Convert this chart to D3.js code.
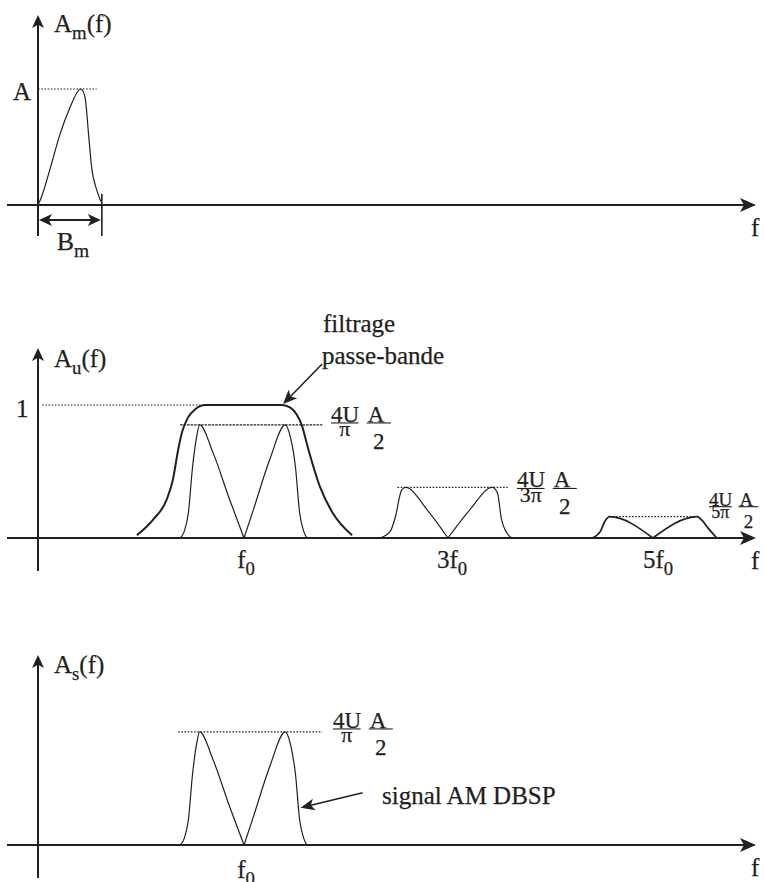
<!DOCTYPE html>
<html>
<head>
<meta charset="utf-8">
<script src="https://cdn.jsdelivr.net/npm/d3@7"></script>
<style>
  body { margin: 0; background: #fff; }
  svg { display: block; }
</style>
</head>
<body>
<svg id="chart" width="764" height="882"></svg>
<script>
// ---- Spectrum data (frequency in diagram units, f0 = 2, amplitude normalised) ----

// Message spectrum A_m(f), bandwidth B_m
const msgFreq = [0, 0.03, 0.12, 0.21, 0.31, 0.38, 0.41, 0.43, 0.46, 0.49, 0.52, 0.57, 0.61];
const msgAmp  = [0, 0.06, 0.32, 0.60, 0.84, 0.97, 1.00, 0.99, 0.91, 0.62, 0.33, 0.13, 0.03];
const msgBandwidth = 0.62;

// Band-pass filter response
const filterFreq = [0.96, 1.12, 1.25, 1.31, 1.36, 1.40, 1.46, 1.53, 1.62, 2.37, 2.45, 2.51, 2.56, 2.62, 2.74, 2.86, 3.05];
const filterAmp  = [0.02, 0.14, 0.29, 0.44, 0.66, 0.80, 0.91, 0.97, 1.00, 1.00, 0.98, 0.93, 0.85, 0.68, 0.38, 0.19, 0.02];

// Double-sideband lobe around f0 (also the filtered output)
const lobe1Freq = [1.38, 1.42, 1.46, 1.50, 1.54, 1.57, 1.70, 1.86, 2.00, 2.09, 2.25, 2.40, 2.45, 2.50, 2.54, 2.58, 2.61];
const lobe1Amp  = [0, 0.05, 0.19, 0.53, 0.76, 0.85, 0.64, 0.29, 0, 0.21, 0.59, 0.85, 0.76, 0.53, 0.19, 0.05, 0];

// Lobe around 3f0
const lobe3Freq = [3.32, 3.42, 3.47, 3.53, 3.57, 3.78, 3.98, 4.19, 4.41, 4.46, 4.50, 4.55, 4.60];
const lobe3Amp  = [0, 0.05, 0.16, 0.36, 0.38, 0.21, 0, 0.21, 0.38, 0.34, 0.14, 0.04, 0];

// Lobe around 5f0
const lobe5Freq = [5.38, 5.46, 5.50, 5.55, 5.97, 6.40, 6.45, 6.50, 6.59];
const lobe5Amp  = [0, 0.05, 0.12, 0.16, 0, 0.16, 0.13, 0.08, 0];

// Peak levels of the harmonics (4U/(nπ) · A/2)
const harmonicLevels = [0.85, 0.38, 0.16];
const harmonicSpans  = [[1.38, 2.76], [3.49, 4.56], [5.55, 6.37]];
const harmonicDen    = ["π", "3π", "5π"];

// Axis tick labels
const tickFreq  = [2, 4, 6];
const tickBase  = ["f", "3f", "5f"];

// ---- Layout ----
const FONT = "'Liberation Serif', 'Times New Roman', Times, serif";
const svg = d3.select("#chart");
const ink = "#231f20";
const x = d3.scaleLinear().domain([0, 6.864]).range([38, 745]);
const axisLeft = 7, axisRight = 756;

const panels = [
  { base: 205, unit: 116, top: 15,  bottom: 236, label: "m", labelY: 32 },
  { base: 538, unit: 133, top: 348, bottom: 571, label: "u", labelY: 367 },
  { base: 845, unit: 133, top: 655, bottom: 878, label: "s", labelY: 673 }
];
panels.forEach(p => { p.y = d3.scaleLinear().domain([0, 1]).range([p.base, p.base - p.unit]); });

const zip = (a, b) => a.map((v, i) => [v, b[i]]);

function label(xp, yp, str, size, anchor) {
  return svg.append("text").attr("x", xp).attr("y", yp)
    .attr("font-family", FONT).attr("font-size", size).attr("fill", ink)
    .attr("stroke", ink).attr("stroke-width", 0.25)
    .attr("text-anchor", anchor || "start").text(str);
}

// split a lobe at interior zeros so the V at the carrier stays sharp
function segments(pts) {
  const out = []; let cur = [pts[0]];
  for (let i = 1; i < pts.length; i++) {
    cur.push(pts[i]);
    if (pts[i][1] === 0 && i < pts.length - 1) { out.push(cur); cur = [pts[i]]; }
  }
  out.push(cur);
  return out;
}

function curve(p, pts, width) {
  const line = d3.line().x(d => x(d[0])).y(d => p.y(d[1])).curve(d3.curveMonotoneX);
  segments(pts).forEach(seg => {
    svg.append("path").attr("d", line(seg)).attr("fill", "none")
      .attr("stroke", ink).attr("stroke-width", width).attr("stroke-linejoin", "round");
  });
}

function dotted(p, f1, f2, level, dash) {
  svg.append("line")
    .attr("x1", x(f1)).attr("x2", x(f2)).attr("y1", p.y(level)).attr("y2", p.y(level))
    .attr("stroke", ink).attr("stroke-width", 1.2).attr("stroke-dasharray", dash || "1.6,1.6");
}

function arrowHead(x2, y2, ang, len, half) {
  const c = Math.cos(ang), s = Math.sin(ang);
  const bx = x2 - c * len, by = y2 - s * len;
  svg.append("path")
    .attr("d", `M${x2},${y2}L${bx - s * half},${by + c * half}L${bx + c * len * 0.25},${by + s * len * 0.25}L${bx + s * half},${by - c * half}Z`)
    .attr("fill", ink);
}

function arrow(x1, y1, x2, y2, width, len, half) {
  const ang = Math.atan2(y2 - y1, x2 - x1);
  svg.append("line").attr("x1", x1).attr("y1", y1)
    .attr("x2", x2 - Math.cos(ang) * len * 0.6).attr("y2", y2 - Math.sin(ang) * len * 0.6)
    .attr("stroke", ink).attr("stroke-width", width);
  arrowHead(x2, y2, ang, len, half);
}

function subText(xp, yp, base, sub, size, anchor) {
  const t = label(xp, yp, null, size, anchor);
  t.append("tspan").text(base);
  t.append("tspan").attr("font-size", size * 0.75).attr("dy", size * 0.28).text(sub);
  return t;
}

// ---- Axes ----
panels.forEach(p => {
  arrow(axisLeft, p.base, axisRight, p.base, 2, 16, 7);
  arrow(x(0), p.bottom, x(0), p.top, 2, 13, 6);
  const t = subText(x(0) + 16, p.labelY, "A", p.label, 25);
  t.append("tspan").attr("dy", -25 * 0.28).attr("font-size", 25).text("(f)");
  label(751, p.base + 31, "f", 25);
});

// ---- Panel 1: message spectrum ----
const p1 = panels[0];
dotted(p1, 0, 0.57, 1);
curve(p1, zip(msgFreq, msgAmp), 1.2);
label(13, p1.y(1) + 11, "A", 25);
svg.append("line").attr("x1", x(msgBandwidth)).attr("x2", x(msgBandwidth))
  .attr("y1", p1.base - 11).attr("y2", p1.bottom).attr("stroke", ink).attr("stroke-width", 1.6);
{
  const yB = p1.base + 15, xa = x(0) + 1, xb = x(msgBandwidth) - 1;
  svg.append("line").attr("x1", xa + 8).attr("x2", xb - 8).attr("y1", yB).attr("y2", yB)
    .attr("stroke", ink).attr("stroke-width", 2);
  arrowHead(xb, yB, 0, 13, 6);
  arrowHead(xa, yB, Math.PI, 13, 6);
}
subText(x(msgBandwidth / 2) + 3, p1.base + 45, "B", "m", 26, "middle");

// ---- Panel 2: chopped signal spectrum and band-pass filter ----
const p2 = panels[1];
dotted(p2, 0.04, 1.57, 1, "1.6,1.6");
label(16, p2.y(1) + 12, "1", 25);
curve(p2, zip(filterFreq, filterAmp), 2);
const lobes = [zip(lobe1Freq, lobe1Amp), zip(lobe3Freq, lobe3Amp), zip(lobe5Freq, lobe5Amp)];
lobes.forEach((pts, i) => curve(p2, pts, i === 2 ? 1.7 : 1.2));
harmonicLevels.forEach((lv, i) => dotted(p2, harmonicSpans[i][0], harmonicSpans[i][1], lv, i === 0 ? "2.5,1" : "1.6,1.6"));

// amplitude fraction label 4U/(nπ) · A/2
function ampLabel(x0, yBar, den, size) {
  label(x0, yBar - 1, "4U", size);
  svg.append("line").attr("x1", x0).attr("x2", x0 + size * 1.2).attr("y1", yBar).attr("y2", yBar)
    .attr("stroke", ink).attr("stroke-width", 1.1);
  label(x0 + size * 0.6, yBar + size * 0.58, den, size * 0.95, "middle");
  const ax = x0 + size * 1.6;
  label(ax, yBar - 1, "A", size);
  svg.append("line").attr("x1", ax - 1).attr("x2", ax + size * 1.0).attr("y1", yBar).attr("y2", yBar)
    .attr("stroke", ink).attr("stroke-width", 1.1);
  label(ax + size * 0.48, yBar + size * 1.12, "2", size, "middle");
}
ampLabel(331, p2.y(harmonicLevels[0]) - 2, harmonicDen[0], 23);
ampLabel(517, p2.y(harmonicLevels[1]) + 1, harmonicDen[1], 23);
ampLabel(709, p2.y(harmonicLevels[2]) - 10, harmonicDen[2], 19);

tickFreq.forEach((f, i) => subText(x(f) + 2, p2.base + 30, tickBase[i], "0", 25, "middle"));

// filter annotation
label(323, 332, "filtrage", 25);
label(322, 364, "passe-bande", 25);
arrow(x(2.37) + 40, p2.y(1) - 41, x(2.37) + 1, p2.y(1) - 1, 1.6, 14, 6);

// ---- Panel 3: output signal (DSB-SC around f0) ----
const p3 = panels[2];
dotted(p3, 1.36, 2.76, harmonicLevels[0]);
curve(p3, zip(lobe1Freq, lobe1Amp), 1.2);
ampLabel(333, p3.y(harmonicLevels[0]) - 3, harmonicDen[0], 23);
subText(x(tickFreq[0]) + 2, p3.base + 33, tickBase[0], "0", 25, "middle");
label(382, 804, "signal AM DBSP", 25);
arrow(x(2.54) + 63, p3.y(0.28) - 15, x(2.54) + 1, p3.y(0.28), 1.6, 14, 6);
</script>
</body>
</html>
